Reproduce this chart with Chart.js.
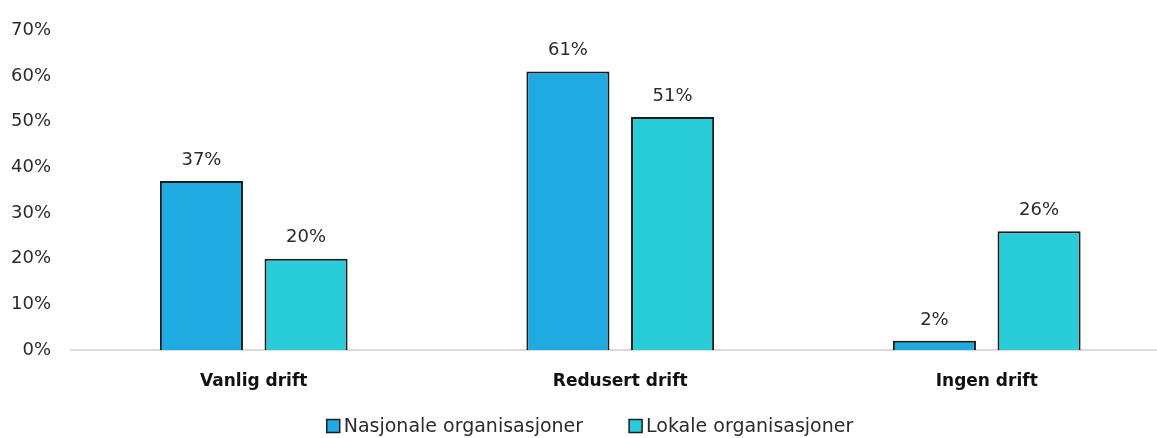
<!DOCTYPE html>
<html>
<head>
<meta charset="utf-8">
<script src="https://cdn.jsdelivr.net/npm/chart.js@4/dist/chart.umd.min.js"></script>
<style>
  html, body { margin: 0; padding: 0; background: #fff; overflow: hidden; }
  #wrap { position: relative; width: 1170px; height: 438px; }
</style>
</head>
<body>
<div id="wrap"><canvas id="c"></canvas></div>
<script>
const categories = ["Vanlig drift", "Redusert drift", "Ingen drift"];
const seriesNames = ["Nasjonale organisasjoner", "Lokale organisasjoner"];
const nasjonale = [37, 61, 2];
const lokale = [20, 51, 26];
const yTicks = [0, 10, 20, 30, 40, 50, 60, 70];

const FONT = "'DejaVu Sans', sans-serif";
const TEXT = "#2b2b2b";

const valueLabels = {
  id: 'valueLabels',
  afterDatasetsDraw(chart) {
    const ctx = chart.ctx;
    ctx.save();
    ctx.font = "18px " + FONT;
    ctx.fillStyle = TEXT;
    ctx.textAlign = "center";
    ctx.textBaseline = "middle";
    chart.data.datasets.forEach((ds, i) => {
      const meta = chart.getDatasetMeta(i);
      meta.data.forEach((bar, j) => {
        ctx.fillText(ds.data[j] + "%", bar.x, bar.y - 21);
      });
    });
    ctx.restore();
  }
};

const customLegend = {
  id: 'customLegend',
  afterDraw(chart) {
    const ctx = chart.ctx;
    ctx.save();
    ctx.font = "19px " + FONT;
    ctx.textBaseline = "middle";
    ctx.textAlign = "left";
    const box = 13, gapBox = 4, gapItem = 46;
    const items = chart.data.datasets.map(ds => ({ text: ds.label, color: ds.backgroundColor, border: ds.borderColor }));
    let total = 0;
    items.forEach((it, i) => {
      it.w = ctx.measureText(it.text).width;
      total += box + gapBox + it.w + (i < items.length - 1 ? gapItem : 0);
    });
    const cy = 426;
    let x = 590 - total / 2;
    items.forEach(it => {
      ctx.fillStyle = it.color;
      ctx.fillRect(x, cy - box / 2, box, box);
      ctx.strokeStyle = it.border;
      ctx.lineWidth = 1.5;
      ctx.strokeRect(x, cy - box / 2, box, box);
      x += box + gapBox;
      ctx.fillStyle = TEXT;
      ctx.fillText(it.text, x, cy + 1);
      x += it.w + gapItem;
    });
    ctx.restore();
  }
};

new Chart(document.getElementById('c'), {
  type: 'bar',
  data: {
    labels: categories,
    datasets: [
      { label: seriesNames[0], data: nasjonale, backgroundColor: '#1FABE2', borderColor: '#1c1c1c', borderWidth: 2 },
      { label: seriesNames[1], data: lokale, backgroundColor: '#29CDD7', borderColor: '#1c1c1c', borderWidth: 2 }
    ]
  },
  options: {
    responsive: true,
    maintainAspectRatio: false,
    animation: false,
    layout: { padding: { left: 0, right: 0, top: 15, bottom: 0 } },
    datasets: { bar: { categoryPercentage: 0.571, barPercentage: 0.794 } },
    plugins: {
      legend: { display: false },
      tooltip: { enabled: false }
    },
    scales: {
      x: {
        afterFit(scale) { scale.height = 88; },
        grid: { display: false, drawTicks: false },
        border: { display: true, color: '#d9d9d9', width: 2 },
        ticks: { font: { family: FONT, size: 17, weight: 'bold' }, color: '#111111', padding: 21 }
      },
      y: {
        min: 0, max: 70,
        afterFit(scale) { scale.width = 70.5; },
        afterBuildTicks(scale) { scale.ticks = yTicks.map(v => ({ value: v })); },
        grid: { display: false, drawTicks: false },
        border: { display: false },
        ticks: { font: { family: FONT, size: 18 }, color: TEXT, padding: 19.5, callback: v => v + '%' }
      }
    }
  },
  plugins: [valueLabels, customLegend]
});
</script>
</body>
</html>
